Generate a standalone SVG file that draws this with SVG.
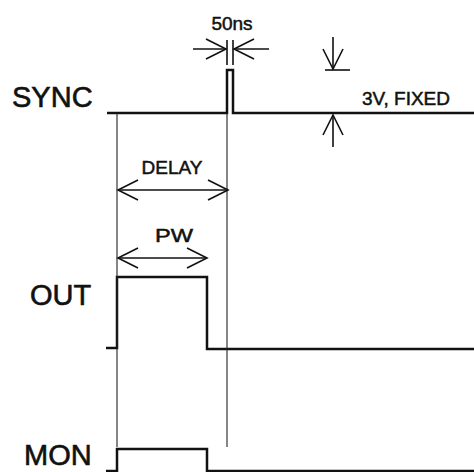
<svg xmlns="http://www.w3.org/2000/svg" width="474" height="472" viewBox="0 0 474 472">
<style>
.sig{fill:none;stroke:#111;stroke-width:2.5;stroke-linejoin:miter}
.thin{fill:none;stroke:#222;stroke-width:1.1}
.arr{fill:none;stroke:#111;stroke-width:1.6}
.lbl{font-family:"Liberation Sans",Arial,sans-serif;fill:#111}
.big{font-size:29px;stroke:#111;stroke-width:0.6}
.small{font-size:19px;stroke:#111;stroke-width:0.5}
</style>
<defs>
<marker id="ah" markerUnits="userSpaceOnUse" viewBox="-22 -12 24 24" refX="0" refY="0" markerWidth="24" markerHeight="24" orient="auto-start-reverse">
<path d="M-20,-10 L0,0 L-20,10" fill="none" stroke="#111" stroke-width="1.6"/>
</marker>
</defs>
<rect width="474" height="472" fill="#fff"/>
<g id="sync">
<path class="sig" d="M107,113 L227,113 L227,70 L233,70 L233,113 L474,113"/>
<text class="lbl big" x="12" y="107">SYNC</text>
</g>
<g id="out">
<path class="sig" d="M106,348 L117,348 L117,277 L207,277 L207,349 L474,349"/>
<text class="lbl big" x="30" y="305">OUT</text>
</g>
<g id="mon">
<path class="sig" d="M106,471 L117,471 L117,449 L207,449 L207,471 L474,471"/>
<text class="lbl big" x="24" y="465">MON</text>
</g>
<g id="connectors">
<line class="thin" x1="117" y1="113" x2="117" y2="447"/>
<line class="thin" x1="227" y1="113" x2="227" y2="447"/>
<line class="arr" x1="227" y1="40" x2="227" y2="65"/>
<line class="arr" x1="233" y1="40" x2="233" y2="65"/>
<line class="arr" x1="193" y1="49" x2="226" y2="49" marker-end="url(#ah)"/>
<line class="arr" x1="269" y1="49" x2="234" y2="49" marker-end="url(#ah)"/>
<line class="arr" x1="333" y1="37" x2="333" y2="69" marker-end="url(#ah)"/>
<line class="arr" x1="325" y1="70" x2="350" y2="70"/>
<line class="arr" x1="333" y1="147" x2="333" y2="115" marker-end="url(#ah)"/>
<line class="arr" x1="118" y1="190" x2="228" y2="190" marker-start="url(#ah)" marker-end="url(#ah)"/>
<line class="arr" x1="118" y1="258" x2="207" y2="258" marker-start="url(#ah)" marker-end="url(#ah)"/>
</g>
<g id="labels">
<text class="lbl small" x="232" y="30" text-anchor="middle" font-size="17.5">50ns</text>
<text class="lbl small" x="362" y="105">3V, FIXED</text>
<text class="lbl small" x="172" y="174" text-anchor="middle">DELAY</text>
<text class="lbl small" x="155" y="242" textLength="38" lengthAdjust="spacingAndGlyphs">PW</text>
</g>
</svg>
